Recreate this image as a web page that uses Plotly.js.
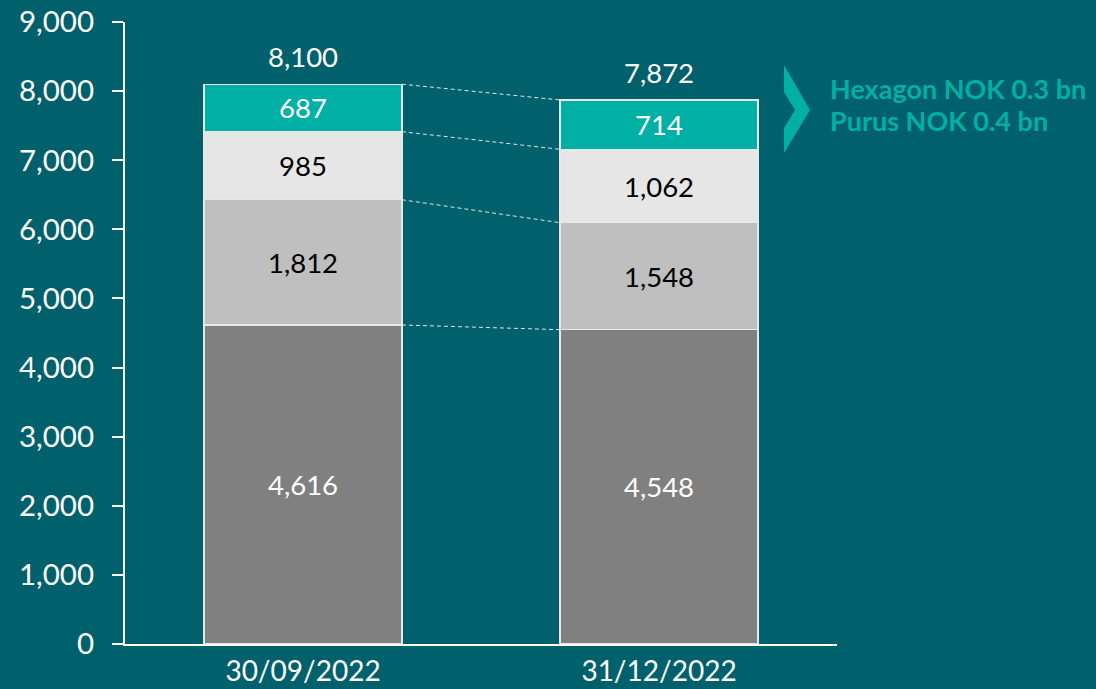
<!DOCTYPE html>
<html>
<head>
<meta charset="utf-8">
<script src="https://cdn.plot.ly/plotly-3.0.1.min.js"></script>
<style>html,body{margin:0;padding:0;background:#00606B;}#chart{width:1096px;height:689px;}</style>
</head>
<body>
<div id="chart"></div>
<script>
const categories = ["30/09/2022", "31/12/2022"];
const seriesBase = [4616, 4548];
const seriesMid = [1812, 1548];
const seriesLight = [985, 1062];
const seriesTop = [687, 714];
const yTickVals = [0,1000,2000,3000,4000,5000,6000,7000,8000,9000];
const noteLines = ["Hexagon NOK 0.3 bn", "Purus NOK 0.4 bn"];

const FONT = "Lato, 'Open Sans', sans-serif";
const BG = "#00606B";
const TEAL = "#00B0A5";
const barWidth = 0.556;
const xIdx = categories.map((c, i) => i);
const fmt = v => v.toLocaleString("en-US");

const layers = [
  {vals: seriesBase, color: "#808080", text: "#FFFFFF"},
  {vals: seriesMid, color: "#BFBFBF", text: "#000000"},
  {vals: seriesLight, color: "#E6E6E6", text: "#000000"},
  {vals: seriesTop, color: TEAL, text: "#FFFFFF"}
];

const traces = [];
const cum = xIdx.map(() => 0);
const levelTops = [];
layers.forEach(l => {
  traces.push({
    type: "bar", x: xIdx, y: l.vals, width: barWidth,
    marker: {color: l.color, line: {color: "#E8E8E8", width: 1.2}},
    text: l.vals.map(fmt), textposition: "inside", insidetextanchor: "middle",
    textangle: 0, constraintext: "none",
    textfont: {family: FONT, size: 27.5, color: l.text},
    hoverinfo: "skip", showlegend: false, cliponaxis: false
  });
  xIdx.forEach(i => cum[i] += l.vals[i]);
  levelTops.push(cum.slice());
});

levelTops.forEach(tops => {
  traces.push({
    type: "scatter", mode: "lines",
    x: [xIdx[0] + barWidth / 2, xIdx[1] - barWidth / 2],
    y: [tops[0], tops[1]],
    line: {color: "rgba(255,255,255,0.85)", width: 1, dash: "4px,3px"},
    hoverinfo: "skip", showlegend: false
  });
});

const totals = levelTops[levelTops.length - 1];
const annotations = xIdx.map(i => ({
  x: i, y: totals[i], xref: "x", yref: "y", text: fmt(totals[i]),
  showarrow: false, yanchor: "bottom", yshift: 9,
  font: {family: FONT, size: 27.5, color: "#FFFFFF"}
}));
const noteY = [0.8923, 0.8424];
noteLines.forEach((t, k) => annotations.push({
  xref: "paper", yref: "paper", x: 0.987, y: noteY[k], xanchor: "left", yanchor: "middle",
  align: "left", showarrow: false,
  text: "<b>" + t + "</b>",
  font: {family: FONT, size: 27, color: TEAL}
}));

const layout = {
  width: 1096, height: 689,
  paper_bgcolor: BG, plot_bgcolor: BG,
  margin: {l: 125, r: 259, t: 22, b: 45},
  barmode: "stack", bargap: 0,
  showlegend: false,
  xaxis: {
    range: [-0.5, 1.5], tickvals: xIdx, ticktext: categories,
    showgrid: false, zeroline: false, showline: true, linecolor: "#FFFFFF", linewidth: 2,
    ticks: "", ticklabelstandoff: 1,
    tickfont: {family: FONT, size: 28, color: "#FFFFFF"}, fixedrange: true
  },
  yaxis: {
    range: [0, 9000], tickvals: yTickVals, ticktext: yTickVals.map(fmt),
    showgrid: false, zeroline: false, showline: true, linecolor: "#FFFFFF", linewidth: 2,
    ticks: "outside", ticklen: 11, tickwidth: 2, tickcolor: "#FFFFFF",
    ticklabelstandoff: 12,
    tickfont: {family: FONT, size: 29.5, color: "#FFFFFF"}, fixedrange: true
  },
  shapes: [{
    type: "path", xref: "paper", yref: "paper",
    path: "M 0.9256 0.9309 L 0.9621 0.8585 L 0.9256 0.7894 L 0.9256 0.8296 L 0.9410 0.8585 L 0.9256 0.8875 Z",
    fillcolor: TEAL, line: {width: 0}
  }],
  annotations: annotations
};

Plotly.newPlot("chart", traces, layout, {displayModeBar: false, staticPlot: true});
</script>
</body>
</html>
